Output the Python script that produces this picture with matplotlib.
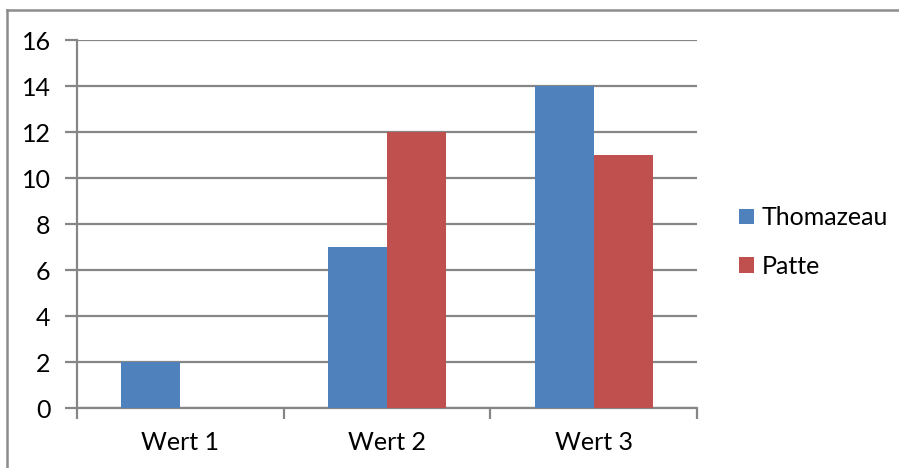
import numpy as np
import matplotlib
matplotlib.use("Agg")
import matplotlib.pyplot as plt
from matplotlib.lines import Line2D

# Daten
categories = ["Wert 1", "Wert 2", "Wert 3"]
thomazeau = [2, 7, 14]
patte = [0, 12, 11]
series_names = ["Thomazeau", "Patte"]

BLUE = "#4F81BD"
RED = "#C0504D"
GRID = "#868686"
FONT = "Lato"
FS = 18

W, H = 899, 468
fig = plt.figure(figsize=(W / 100, H / 100), dpi=100)
plt.rcParams["font.family"] = [FONT, "DejaVu Sans"]

# Plotbereich in Pixeln
x0, x1, y0, y1 = 77, 697, 40, 408
ax = fig.add_axes([x0 / W, 1 - y1 / H, (x1 - x0) / W, (y1 - y0) / H])

x = np.arange(len(categories))
bw = 1 / 3.5
ax.bar(x - bw / 2, thomazeau, bw, color=BLUE, label=series_names[0], zorder=3)
ax.bar(x + bw / 2, patte, bw, color=RED, label=series_names[1], zorder=3)

ax.set_xlim(-0.5, len(categories) - 0.5)
ax.set_ylim(0, 16)
ax.set_yticks(np.arange(0, 17, 2))
ax.yaxis.grid(True, color=GRID, linewidth=1.6, zorder=0)
ax.set_axisbelow(True)

ax.set_xticks(x)
ax.set_xticklabels(categories)
ax.set_xticks(np.arange(-0.5, len(categories)), minor=True)
ax.tick_params(axis="x", which="major", length=0, pad=16.5, labelsize=FS)
ax.tick_params(axis="x", which="minor", length=8, width=1.6, color=GRID)
ax.tick_params(axis="y", length=9, width=1.6, color=GRID, pad=10, labelsize=FS)

for s in ["top", "right"]:
    ax.spines[s].set_visible(False)
for s in ["left", "bottom"]:
    ax.spines[s].set_color(GRID)
    ax.spines[s].set_linewidth(1.6)

leg = fig.legend(loc="center left", bbox_to_anchor=(739 / W, 1 - 242 / H),
                 frameon=False, fontsize=FS, handlelength=0.6, handleheight=0.6,
                 handletextpad=0.3, labelspacing=1.02, borderpad=0, borderaxespad=0)

# Rahmen oben und links
fig.add_artist(Line2D([7 / W, 1], [1 - 10 / H, 1 - 10 / H], color="#8c8c8c", linewidth=1.8))
fig.add_artist(Line2D([7 / W, 7 / W], [0, 1 - 10 / H], color="#8c8c8c", linewidth=1.8))

fig.savefig("out.png", dpi=100, facecolor="white")
